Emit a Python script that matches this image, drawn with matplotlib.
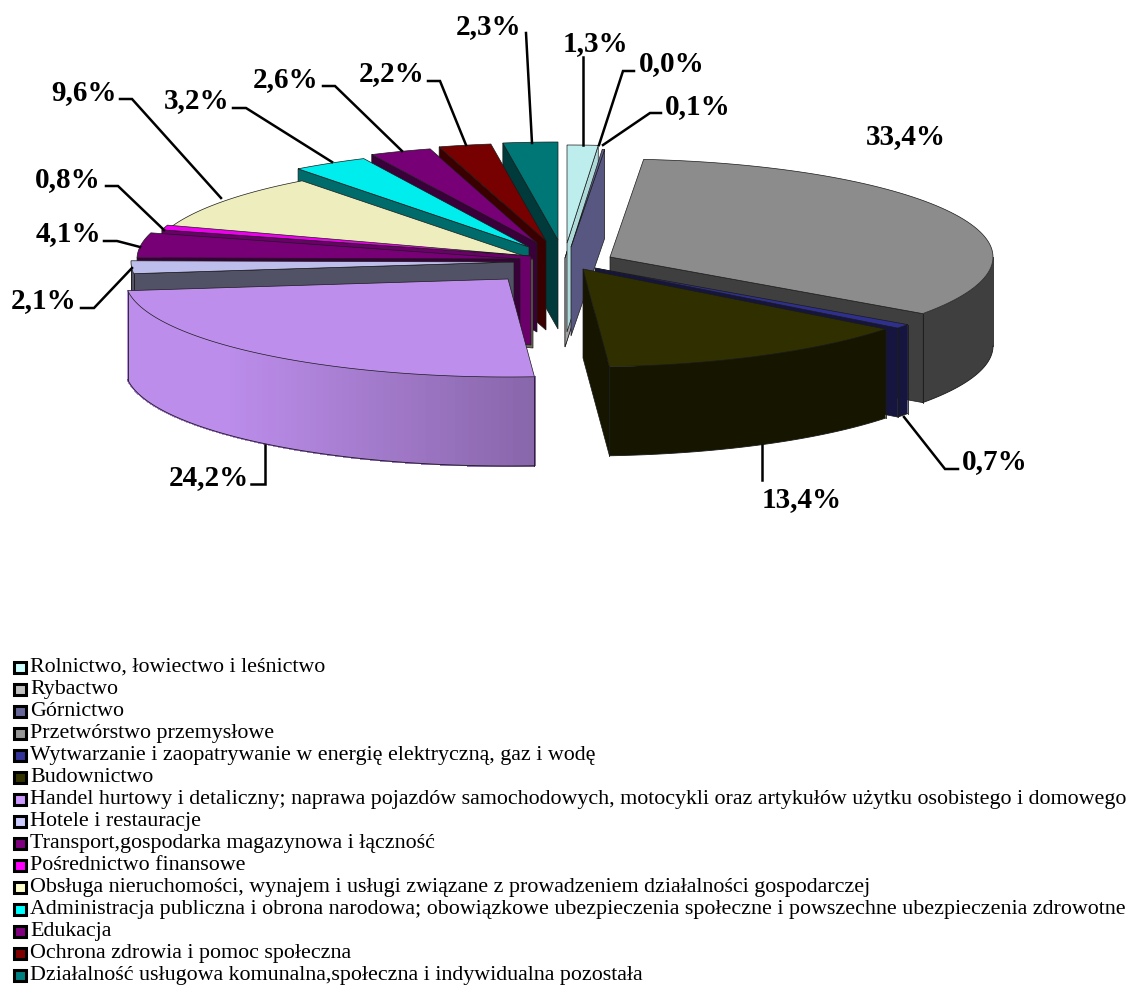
import numpy as np
import matplotlib
matplotlib.use('Agg')
import matplotlib.pyplot as plt
from matplotlib.patches import Polygon, Rectangle

categories = ['Rolnictwo, łowiectwo i leśnictwo',
              'Rybactwo',
              'Górnictwo',
              'Przetwórstwo przemysłowe',
              'Wytwarzanie i zaopatrywanie w energię elektryczną, gaz i wodę',
              'Budownictwo',
              'Handel hurtowy i detaliczny; naprawa pojazdów samochodowych, motocykli oraz artykułów użytku osobistego i domowego',
              'Hotele i restauracje',
              'Transport,gospodarka magazynowa i łączność',
              'Pośrednictwo finansowe',
              'Obsługa nieruchomości, wynajem i usługi związane z prowadzeniem działalności gospodarczej',
              'Administracja publiczna i obrona narodowa; obowiązkowe ubezpieczenia społeczne i powszechne ubezpieczenia zdrowotne',
              'Edukacja',
              'Ochrona zdrowia i pomoc społeczna',
              'Działalność usługowa komunalna,społeczna i indywidualna pozostała']
values = [1.3, 0.0, 0.1, 33.4, 0.7, 13.4, 24.2, 2.1, 4.1, 0.8, 9.6, 3.2, 2.6, 2.2, 2.3]
colors = ['#ccffff', '#c0c0c0', '#666699', '#969696', '#333399', '#333300', '#cc99ff', '#ccccff',
          '#800080', '#ff00ff', '#ffffcc', '#00ffff', '#800080', '#800000', '#008080']

# layout of the exploded pie, in pixels
CX, CY = 550, 260
RX, RY, DEPTH = 383, 98, 89
explode_x = [17, 15, 21, 60, 45, 33, -42, -36, -30, -19, -17, -21, -13, -4, 8]
explode_y = [-17, -2, -13, -3, 8, 9, 19, 2, -1, -4, -1, -13, -17, -19, -20]
wall_shade = [0.85, 0.85, 0.85, 0.42, 0.42, 0.42, 0.42, 0.40, 0.45, 0.42, 0.42, 0.42, 0.45, 0.45, 0.45]
top_shade = 0.93

# label text centre and leader line for every slice
label_x = [595, 672, 698, 906, 995, 802, 209, 44, 68, 68, 84, 197, 286, 392, 489]
label_y = [44, 64, 107, 137, 462, 500, 478, 301, 234, 180, 93, 101, 80, 74, 27]
leaders = [[(583, 57), (583, 145)],
           [(634, 71), (623, 71), (599, 145)],
           [(661, 113), (650, 113), (603, 145)],
           None,
           [(958, 469), (945, 469), (904, 417)],
           [(762, 445), (762, 480)],
           [(265, 445), (265, 484), (251, 484)],
           [(81, 308), (94, 308), (132, 268)],
           [(104, 241), (117, 241), (140, 247)],
           [(106, 186), (118, 186), (164, 230)],
           [(120, 99), (132, 99), (221, 198)],
           [(233, 108), (246, 108), (332, 162)],
           [(323, 86), (335, 86), (402, 151)],
           [(428, 81), (440, 81), (466, 145)],
           [(526, 33), (532, 143)]]

draw_order = [14, 13, 12, 11, 10, 9, 8, 7, 6, 1, 0, 2, 3, 4, 5]

plt.rcParams['font.family'] = ['Liberation Serif', 'DejaVu Serif']
fig = plt.figure(figsize=(11.33, 9.86), dpi=100)
ax = fig.add_axes([0, 0, 1, 1])
ax.set_xlim(0, 1133)
ax.set_ylim(986, 0)
ax.axis('off')


def shade(color, f):
    rgb = np.array(matplotlib.colors.to_rgb(color))
    return tuple(rgb * f)


def rim_points(x0, y0, a0, a1, n=60):
    t = np.radians(np.linspace(a0, a1, n))
    return np.column_stack((x0 + RX * np.sin(t), y0 - RY * np.cos(t)))


total = sum(values)
edges = 360 * np.cumsum([0] + values) / total
EDGE = '#1a1a1a'

for i in draw_order:
    a0, a1 = edges[i], edges[i + 1]
    x0, y0 = CX + explode_x[i], CY + explode_y[i]
    col = colors[i]
    wall = shade(col, wall_shade[i])

    # radial wall, only the side turned to the viewer
    for a in (a0, a1):
        s = np.sin(np.radians(a))
        if (a == a0 and s < 0) or (a == a1 and s > 0):
            p = rim_points(x0, y0, a, a, 1)[0]
            ax.add_patch(Polygon([(x0, y0), p, (p[0], p[1] + DEPTH), (x0, y0 + DEPTH)],
                                 fc=wall, ec=EDGE, lw=0.5, zorder=2))

    # outer wall, front half of the rim
    b0, b1 = max(a0, 90), min(a1, 270)
    if b1 > b0:
        pts = rim_points(x0, y0, b0, b1, 80)
        if i == 6:
            # handel has a lit gradient on its wall
            for k in range(len(pts) - 1):
                t = np.clip((pts[k][0] - 230) / (535 - 230), 0, 1)
                c = shade(col, 0.92 - 0.25 * t)
                q = [pts[k], pts[k + 1], pts[k + 1] + (0, DEPTH), pts[k] + (0, DEPTH)]
                ax.add_patch(Polygon(q, fc=c, ec=c, lw=0.8, antialiased=False, zorder=2))
        else:
            q = np.vstack((pts, (pts + (0, DEPTH))[::-1]))
            ax.add_patch(Polygon(q, fc=wall, ec='none', zorder=2))
        ax.plot(pts[:, 0], pts[:, 1] + DEPTH, color=EDGE, lw=0.6, zorder=2)
        for p in (pts[0], pts[-1]):
            ax.plot([p[0], p[0]], [p[1], p[1] + DEPTH], color=EDGE, lw=0.6, zorder=2)

    # top of the slice
    top = np.vstack(([(x0, y0)], rim_points(x0, y0, a0, a1, 80)))
    ax.add_patch(Polygon(top, fc=shade(col, top_shade), ec=EDGE, lw=0.5, zorder=2))

for i, v in enumerate(values):
    txt = f'{v:.1f}%'.replace('.', ',')
    ax.text(label_x[i], label_y[i], txt, ha='center', va='center',
            fontsize=21, fontweight='bold', color='black', zorder=4)
    if leaders[i] is not None:
        xs, ys = zip(*leaders[i])
        ax.plot(xs, ys, color='black', lw=1.8, zorder=3, solid_joinstyle='miter')

# legend
for i, name in enumerate(categories):
    y = 668 + 22.0 * i
    ax.add_patch(Rectangle((14, y - 6), 11.5, 10.5, fc=colors[i], ec='black', lw=2.2, zorder=3))
    ax.text(30, y - 0.5, name, ha='left', va='center', fontsize=15.85, color='black', zorder=3)

fig.savefig('out.png', dpi=100)
